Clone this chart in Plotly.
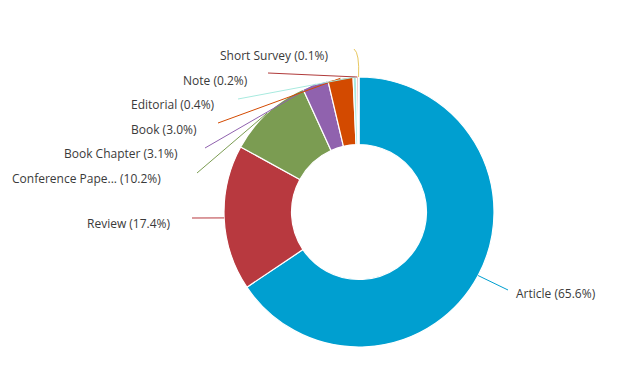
import math
import plotly.graph_objects as go

# ---- data ----
categories = ["Article", "Review", "Conference Pape...", "Book Chapter", "Book",
              "Editorial", "Note", "Short Survey"]
shares = [65.6, 17.4, 10.2, 3.1, 3.0, 0.4, 0.2, 0.1]
colors = ["#009fd0", "#b8393f", "#7b9c52", "#9062ae", "#d34a00",
          "#a8eadf", "#b03a3a", "#e8c860"]

# ---- layout (pixel geometry of the 624x392 canvas) ----
W, H = 624, 392
OFF = 8  # page body margin
CX, CY, R = 359, 212, 135
# where each leader line ends (pixels) and where its label sits
line_ends = [(508, 290), (192, 218), (197, 173), (205, 148), (218, 123),
             (238, 99), (268, 73), (354, 49)]
label_anchor = [(514, 293, "left"), (173, 223, "right"), (163, 178, "right"),
                (180, 153, "right"), (199, 129, "right"), (217, 104, "right"),
                (250, 80, "right"), (330, 55, "right")]


def px(x):
    return (x - OFF) / W


def py(y):
    return 1 - (y - OFF) / H


fig = go.Figure(go.Pie(
    labels=categories, values=shares, sort=False, direction="clockwise",
    rotation=0, hole=0.5, textinfo="none", hoverinfo="label+percent",
    marker=dict(colors=colors, line=dict(color="white", width=1.2)),
    domain=dict(x=[px(CX - R), px(CX + R)], y=[py(CY + R), py(CY - R)]),
    showlegend=False,
))

total = sum(shares)
cum = 0.0
shapes, annotations = [], []
for i, (cat, v) in enumerate(zip(categories, shares)):
    mid = (cum + v / 2) / total * 2 * math.pi
    cum += v
    sx = CX + R * math.sin(mid)
    sy = CY - R * math.cos(mid)
    ex, ey = line_ends[i]
    if cat == "Short Survey":
        path = f"M {px(ex)},{py(ey)} Q {px(sx + 1)},{py(ey + 4)} {px(sx)},{py(sy)}"
        shapes.append(dict(type="path", xref="paper", yref="paper", path=path,
                           line=dict(color=colors[i], width=1)))
    else:
        shapes.append(dict(type="line", xref="paper", yref="paper",
                           x0=px(ex), y0=py(ey), x1=px(sx), y1=py(sy),
                           line=dict(color=colors[i], width=1)))
    lx, ly, anchor = label_anchor[i]
    annotations.append(dict(x=px(lx), y=py(ly), xref="paper", yref="paper",
                            text=f"{cat} ({v:.1f}%)", showarrow=False,
                            xanchor=anchor, yanchor="middle",
                            font=dict(family="Open Sans", size=12, color="#3a3a3a")))

fig.update_layout(
    width=W, height=H, margin=dict(l=0, r=0, t=0, b=0),
    paper_bgcolor="white", plot_bgcolor="white",
    shapes=shapes, annotations=annotations,
)

fig.write_html("out.html")
